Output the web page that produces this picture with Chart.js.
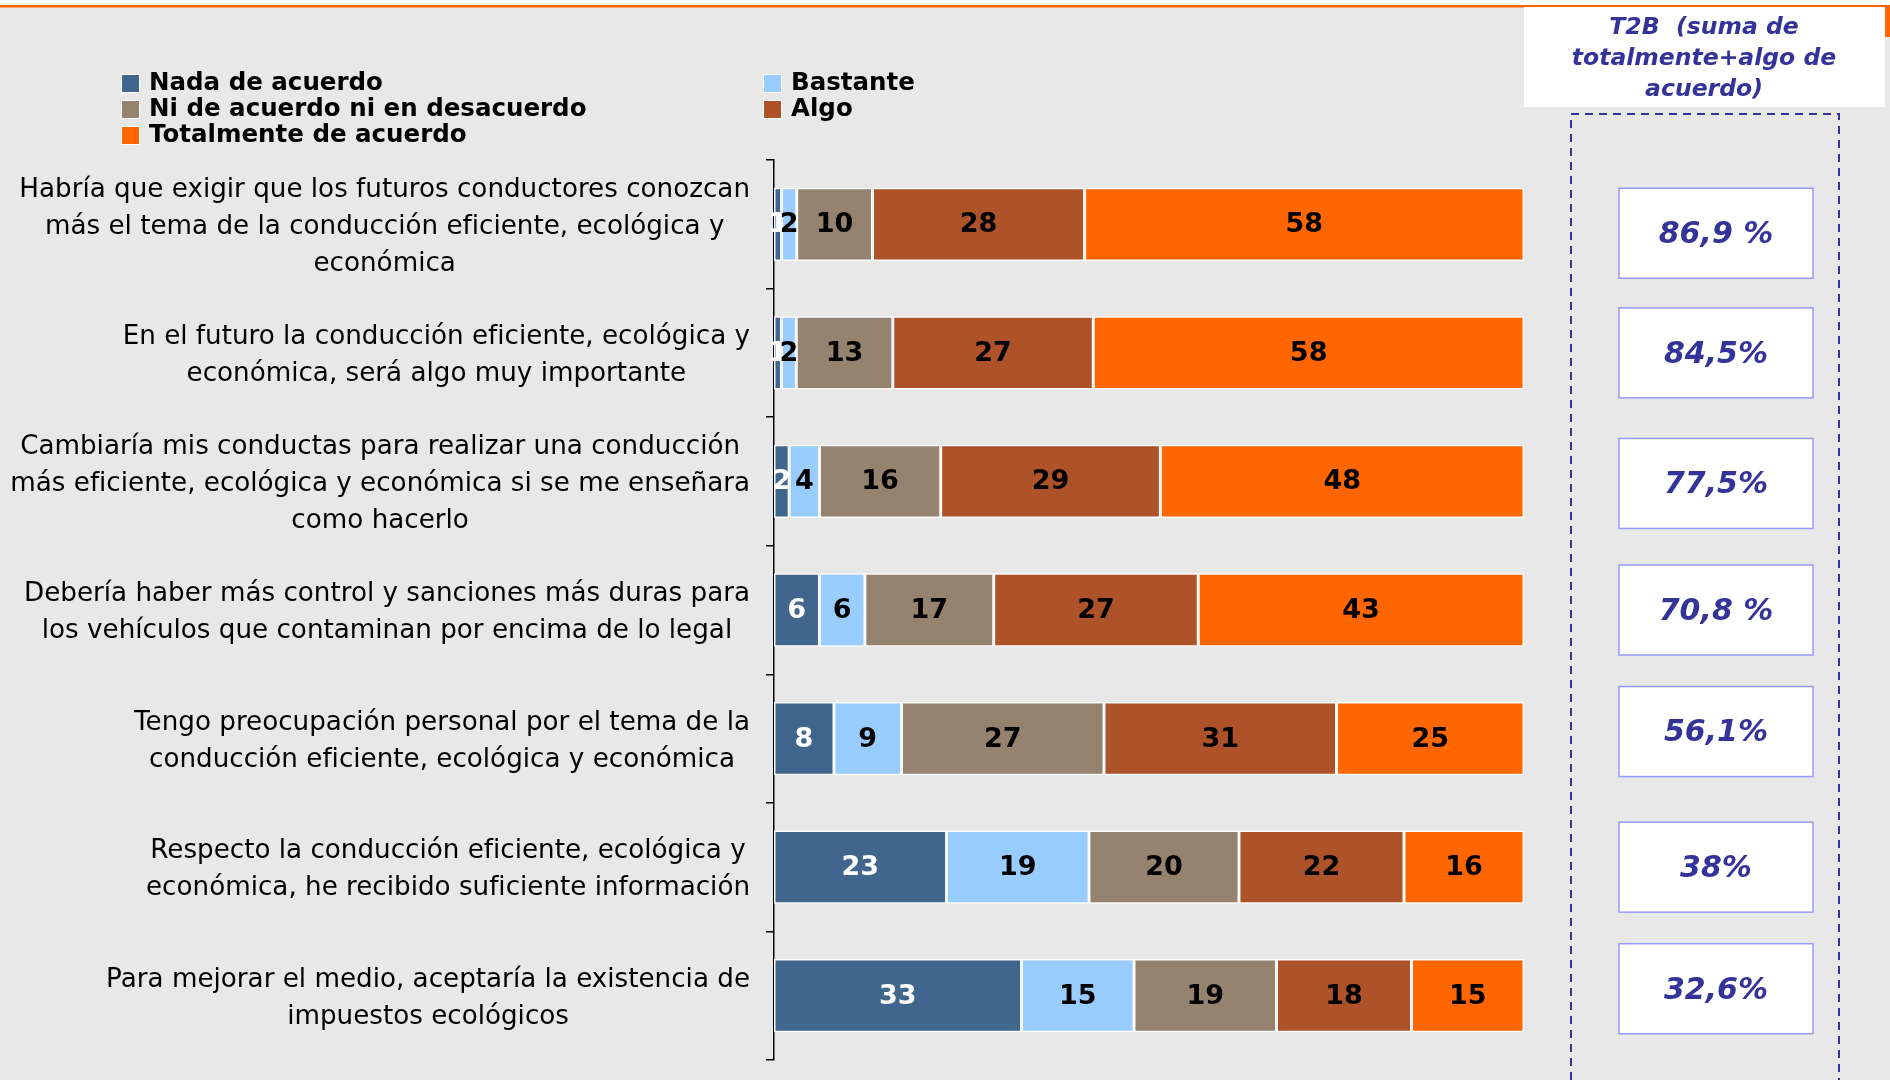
<!DOCTYPE html>
<html lang="es">
<head>
<meta charset="utf-8">
<title>Conducción eficiente</title>
<script src="https://cdn.jsdelivr.net/npm/chart.js@4.4.1/dist/chart.umd.min.js"></script>
<style>
  html, body { margin: 0; padding: 0; background: #fff; }
  #wrap { width: 1890px; height: 1080px; }
</style>
</head>
<body>
<div id="wrap"><canvas id="grafico" width="1890" height="1080"></canvas></div>
<script>
// Frases (una por barra), partidas en líneas
const frases = [
    ['Habría que exigir que los futuros conductores conozcan', 'más el tema de la conducción eficiente, ecológica y', 'económica'],
    ['En el futuro la conducción eficiente, ecológica y', 'económica, será algo muy importante'],
    ['Cambiaría mis conductas para realizar una conducción', 'más eficiente, ecológica y económica si se me enseñara', 'como hacerlo'],
    ['Debería haber más control y sanciones más duras para', 'los vehículos que contaminan por encima de lo legal'],
    ['Tengo preocupación personal por el tema de la', 'conducción eficiente, ecológica y económica'],
    ['Respecto la conducción eficiente, ecológica y', 'económica, he recibido suficiente información'],
    ['Para mejorar el medio, aceptaría la existencia de', 'impuestos ecológicos']
];

// Porcentajes por respuesta
const nadaAcuerdo = [1, 1, 2, 6, 8, 23, 33];
const bastante = [2, 2, 4, 6, 9, 19, 15];
const niAcuerdo = [10, 13, 16, 17, 27, 20, 19];
const algo = [28, 27, 29, 27, 31, 22, 18];
const totalmente = [58, 58, 48, 43, 25, 16, 15];

// T2B (suma de totalmente + algo de acuerdo)
const t2b = ['86,9 %', '84,5%', '77,5%', '70,8 %', '56,1%', '38%', '32,6%'];

const AZUL_T2B = '#333399';

const series = [
    { label: 'Nada de acuerdo', valores: nadaAcuerdo, color: '#41668e', texto: '#ffffff' },
    { label: 'Bastante', valores: bastante, color: '#99ccff', texto: '#000000' },
    { label: 'Ni de acuerdo ni en desacuerdo', valores: niAcuerdo, color: '#95836f', texto: '#000000' },
    { label: 'Algo', valores: algo, color: '#ae5229', texto: '#000000' },
    { label: 'Totalmente de acuerdo', valores: totalmente, color: '#ff6600', texto: '#000000' }
];

// Barras al 100%: cada fila se reparte sobre su propio total
const totalesFila = frases.map((f, i) => series.reduce((acc, s) => acc + s.valores[i], 0));

const datasets = series.map(s => ({
    label: s.label,
    data: s.valores.map((v, i) => v / totalesFila[i] * 100),
    valores: s.valores,
    colorTexto: s.texto,
    backgroundColor: s.color,
    borderColor: '#ffffff',
    borderWidth: 1.5,
    borderSkipped: false,
    barPercentage: 0.57,
    categoryPercentage: 1
}));

// Fondo gris con la línea naranja de arriba
const fondo = {
    id: 'fondo',
    beforeDraw(chart) {
        const ctx = chart.ctx;
        ctx.save();
        ctx.fillStyle = '#ffffff';
        ctx.fillRect(0, 0, chart.width, chart.height);
        ctx.fillStyle = '#e8e8e8';
        ctx.fillRect(0, 7, chart.width, chart.height - 7);
        ctx.fillStyle = '#ff6600';
        ctx.fillRect(0, 5, chart.width, 2.5);
        ctx.fillRect(1885, 7, 5, 30);
        ctx.restore();
    }
};

// Leyenda en dos columnas (orden por filas)
const leyenda = {
    id: 'leyenda',
    afterDraw(chart) {
        const ctx = chart.ctx;
        const columnas = [122, 764];
        const filas = [83, 109, 135];
        ctx.save();
        ctx.font = 'bold 24.5px "DejaVu Sans", Verdana, sans-serif';
        ctx.textBaseline = 'middle';
        ctx.textAlign = 'left';
        chart.data.datasets.forEach((ds, i) => {
            const x = columnas[i % 2];
            const y = filas[Math.floor(i / 2)];
            ctx.fillStyle = '#ffffff';
            ctx.fillRect(x - 1, y - 9, 19, 19);
            ctx.fillStyle = ds.backgroundColor;
            ctx.fillRect(x, y - 8, 17, 17);
            ctx.fillStyle = '#000000';
            ctx.fillText(ds.label, x + 27, y + 1);
        });
        ctx.restore();
    }
};

// Frases a la izquierda: bloque alineado a la derecha, líneas centradas
const frasesEje = {
    id: 'frasesEje',
    afterDraw(chart) {
        const ctx = chart.ctx;
        const escala = chart.scales.y;
        const derecha = chart.chartArea.left - 24;
        const interlinea = 37;
        ctx.save();
        ctx.font = '26.2px "DejaVu Sans", Verdana, sans-serif';
        ctx.fillStyle = '#000000';
        ctx.textAlign = 'center';
        ctx.textBaseline = 'middle';
        chart.data.labels.forEach((lineas, i) => {
            const yc = escala.getPixelForValue(i) + 3;
            const ancho = Math.max(...lineas.map(l => ctx.measureText(l).width));
            const xc = derecha - ancho / 2;
            const y0 = yc - (lineas.length - 1) * interlinea / 2;
            lineas.forEach((l, j) => ctx.fillText(l, xc, y0 + j * interlinea));
        });
        ctx.restore();
    }
};

// Números dentro de cada tramo
const valoresBarras = {
    id: 'valoresBarras',
    afterDatasetsDraw(chart) {
        const ctx = chart.ctx;
        ctx.save();
        ctx.font = 'bold 27px "DejaVu Sans", Verdana, sans-serif';
        ctx.textAlign = 'center';
        ctx.textBaseline = 'middle';
        chart.data.datasets.forEach((ds, d) => {
            const meta = chart.getDatasetMeta(d);
            meta.data.forEach((barra, i) => {
                ctx.fillStyle = ds.colorTexto;
                ctx.fillText(String(ds.valores[i]), (barra.x + barra.base) / 2, barra.y + 1);
            });
        });
        ctx.restore();
    }
};

// Columna T2B de la derecha
const columnaT2B = {
    id: 'columnaT2B',
    afterDraw(chart) {
        const ctx = chart.ctx;
        const escala = chart.scales.y;
        // las cajas no quedan exactamente centradas en cada barra
        const desfase = [9, 0, 2, 0, -7, 0, -7];
        ctx.save();

        // cabecera
        ctx.fillStyle = '#ffffff';
        ctx.fillRect(1524, 7, 361, 100);
        ctx.fillStyle = AZUL_T2B;
        ctx.font = 'italic bold 23.5px "DejaVu Sans", Verdana, sans-serif';
        ctx.textAlign = 'center';
        ctx.textBaseline = 'middle';
        ['T2B  (suma de', 'totalmente+algo de', 'acuerdo)'].forEach((l, j) => {
            ctx.fillText(l, 1704, 28 + j * 31);
        });

        // recuadro discontinuo
        ctx.strokeStyle = AZUL_T2B;
        ctx.lineWidth = 2;
        ctx.setLineDash([8, 6]);
        ctx.beginPath();
        ctx.moveTo(1571, chart.height);
        ctx.lineTo(1571, 114);
        ctx.lineTo(1839, 114);
        ctx.lineTo(1839, chart.height);
        ctx.stroke();
        ctx.setLineDash([]);

        // cajas con el valor
        ctx.font = 'italic bold 30px "DejaVu Sans", Verdana, sans-serif';
        t2b.forEach((txt, i) => {
            const yc = escala.getPixelForValue(i) + desfase[i];
            ctx.fillStyle = '#ffffff';
            ctx.fillRect(1619, yc - 45, 194, 90);
            ctx.strokeStyle = '#9999ff';
            ctx.lineWidth = 1.5;
            ctx.strokeRect(1619, yc - 45, 194, 90);
            ctx.fillStyle = AZUL_T2B;
            ctx.fillText(txt, 1716, yc + 2);
        });
        ctx.restore();
    }
};

const ctx = document.getElementById('grafico').getContext('2d');
const chart = new Chart(ctx, {
    type: 'bar',
    data: { labels: frases, datasets: datasets },
    options: {
        indexAxis: 'y',
        responsive: false,
        animation: false,
        devicePixelRatio: 1,
        layout: { padding: { left: 766, right: 366, top: 160, bottom: 20 } },
        plugins: {
            legend: { display: false },
            tooltip: { enabled: false }
        },
        scales: {
            x: {
                stacked: true,
                min: 0,
                max: 100,
                display: false
            },
            y: {
                stacked: true,
                afterFit: s => { s.width = 8; },
                ticks: { display: false },
                grid: {
                    drawOnChartArea: false,
                    drawTicks: true,
                    tickLength: 8,
                    color: '#000000',
                    lineWidth: 1.5
                },
                border: { display: true, color: '#000000', width: 1.5 }
            }
        }
    },
    plugins: [fondo, leyenda, frasesEje, valoresBarras, columnaT2B]
});
</script>
</body>
</html>
